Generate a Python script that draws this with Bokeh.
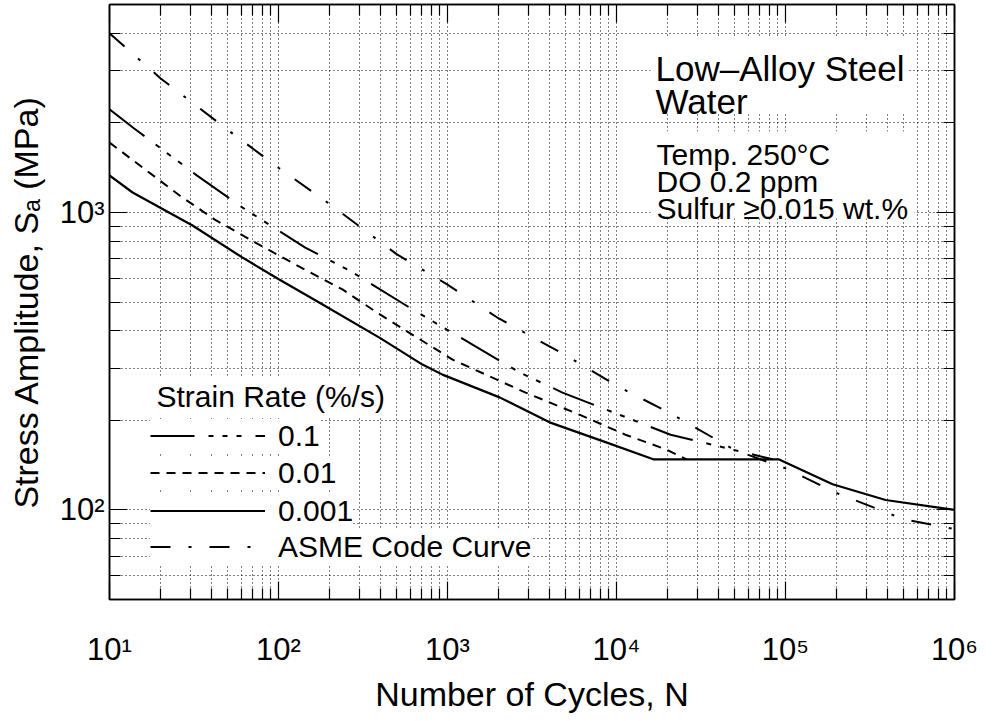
import math
from bokeh.plotting import figure
from bokeh.models import (LogAxis, FixedTicker, Legend, LegendItem, Label,
                          BoxAnnotation)
from bokeh.embed import file_html
from bokeh.resources import INLINE

# ---------------- data ----------------
asme_n = [10, 20, 50, 100, 200, 500, 1000, 2000, 5000, 10000, 12000, 20000,
          50000, 100000, 200000, 500000, 1000000]
asme_s = [3999, 2827, 1896, 1413, 1069, 724, 572, 441, 331, 262, 248, 214,
          159, 138, 114, 93.1, 86.2]

rate01_n = [10, 14, 33, 61, 144, 263, 621, 1110, 2670, 4790, 12400, 20900, 84000]
rate01_s = [2220, 1915, 1330, 1040, 762, 638, 472, 389, 290, 248, 201, 179, 148]

rate001_n = [10, 26, 42, 73, 126, 239, 396, 1071, 2898, 6040, 11300, 19500, 26000]
rate001_s = [1718, 1140, 946, 792, 668, 551, 455, 320, 248, 209, 179, 160, 148]

rate0001_n = [10, 13.7, 31, 61, 101, 166, 400, 711, 934, 2033, 4018, 8610,
              16500, 91000, 190000, 391000, 1000000]
rate0001_s = [1331, 1167, 904, 706, 595, 506, 378, 308, 285, 239, 197, 169,
              148, 148, 122, 108, 100]

legend_labels = ["0.1", "0.01", "0.001", "ASME Code Curve"]
legend_title = "Strain Rate (%/s)"

x_major = [10, 100, 1000, 10000, 100000, 1000000]
x_labels = ["10¹", "10²", "10³", "10⁴", "10⁵", "10⁶"]
y_major = [100, 1000]
y_labels = ["10²", "10³"]
x_minor = [m * 10 ** k for k in range(1, 6) for m in range(2, 10)]
y_minor = [m * 10 ** k for k in range(1, 4) for m in range(2, 10)
           if 50 <= m * 10 ** k <= 5000]

X_LO, X_HI = 10, 1e6
Y_LO, Y_HI = 50, 5000

FONT = "Liberation Sans"
FRAME_W, FRAME_H = 845, 595


# frame-pixel -> data helpers for annotation placement
def nx(px):
    return 10 ** (math.log10(X_LO) + (math.log10(X_HI) - math.log10(X_LO)) * px / FRAME_W)


def sy(py):
    return 10 ** (math.log10(Y_HI) - (math.log10(Y_HI) - math.log10(Y_LO)) * py / FRAME_H)


p = figure(frame_width=FRAME_W, frame_height=FRAME_H,
           x_axis_type="log", y_axis_type="log",
           x_range=(X_LO, X_HI), y_range=(Y_LO, Y_HI),
           output_backend="svg", toolbar_location=None,
           min_border_left=109, min_border_right=36,
           min_border_top=4, min_border_bottom=104)
p.background_fill_color = "white"
p.border_fill_color = "white"
p.outline_line_color = "black"
p.outline_line_width = 1.5

bottom = p.below[0]
left = p.left[0]

xt = FixedTicker(ticks=x_major, minor_ticks=x_minor)
yt = FixedTicker(ticks=y_major, minor_ticks=y_minor)

top = LogAxis()
right = LogAxis()
p.add_layout(top, "above")
p.add_layout(right, "right")

for ax, tk in [(bottom, xt), (top, xt), (left, yt), (right, yt)]:
    ax.ticker = tk
    ax.major_tick_in = 18
    ax.major_tick_out = 0
    ax.minor_tick_in = 11
    ax.minor_tick_out = 0
    ax.major_tick_line_color = "black"
    ax.minor_tick_line_color = "black"
    ax.major_tick_line_width = 1.2
    ax.minor_tick_line_width = 1.2
    ax.axis_line_color = "black"
    ax.axis_line_width = 1.5
    ax.major_label_text_font = FONT
    ax.major_label_text_color = "black"

for ax in (top, right):
    ax.major_label_text_font_size = "1px"
    ax.major_label_text_alpha = 0
    ax.major_label_standoff = 0

bottom.major_label_overrides = dict(zip(x_major, x_labels))
left.major_label_overrides = dict(zip(y_major, y_labels))
bottom.major_label_text_font_size = "31px"
left.major_label_text_font_size = "31px"
bottom.major_label_standoff = 32
left.major_label_standoff = 5

bottom.axis_label = "Number of Cycles, N"
left.axis_label = "Stress Amplitude, Sₐ (MPa)"
for ax in (bottom, left):
    ax.axis_label_text_font = FONT
    ax.axis_label_text_font_size = "34px"
    ax.axis_label_text_font_style = "normal"
    ax.axis_label_text_color = "black"
bottom.axis_label_standoff = 5
left.axis_label_standoff = 12

for g, tk in ((p.xgrid[0], xt), (p.ygrid[0], yt)):
    g.ticker = tk
    g.grid_line_color = "black"
    g.grid_line_dash = "1 3"
    g.grid_line_width = 1
    g.minor_grid_line_color = "black"
    g.minor_grid_line_dash = "1 3"
    g.minor_grid_line_width = 1

r_asme = p.line(asme_n, asme_s, line_color="black", line_width=2,
                line_dash="20 18 3 18")
r_01 = p.line(rate01_n, rate01_s, line_color="black", line_width=2,
              line_dash="44 14 5 9 5 9 5 14")
r_001 = p.line(rate001_n, rate001_s, line_color="black", line_width=2,
               line_dash="9 7")
r_0001 = p.line(rate0001_n, rate0001_s, line_color="black", line_width=2.2)

# ---- white masks + annotation text (upper right) ----
OX, OY = 117, 12  # reference frame origin on the page
p.add_layout(BoxAnnotation(left=nx(658 - OX), right=nx(916 - OX),
                           top=sy(45 - OY), bottom=sy(120 - OY),
                           fill_color="white", fill_alpha=1, line_color=None))
p.add_layout(BoxAnnotation(left=nx(658 - OX), right=nx(922 - OX),
                           top=sy(139 - OY), bottom=sy(226 - OY),
                           fill_color="white", fill_alpha=1, line_color=None))

big_lines = [("Low–Alloy Steel", 76), ("Water", 109)]
small_lines = [("Temp. 250°C", 162), ("DO 0.2 ppm", 189),
               ("Sulfur ≥0.015 wt.%", 216)]
for txt, base in big_lines:
    p.add_layout(Label(x=nx(663 - OX), y=sy(base - OY), text=txt,
                       text_font=FONT, text_font_size="35px",
                       text_align="left", text_baseline="alphabetic",
                       text_color="black"))
for txt, base in small_lines:
    p.add_layout(Label(x=nx(664 - OX), y=sy(base - OY), text=txt,
                       text_font=FONT, text_font_size="30px",
                       text_align="left", text_baseline="alphabetic",
                       text_color="black"))

# ---- legend ----
p.add_layout(Label(x=nx(161 - OX), y=sy(404 - OY), text=legend_title,
                   text_font=FONT, text_font_size="30px",
                   text_align="left", text_baseline="alphabetic",
                   text_color="black", background_fill_color="white",
                   background_fill_alpha=1, padding=3))

row_centers = [442, 479, 517, 553]
for lab, r, c in zip(legend_labels, [r_01, r_001, r_0001, r_asme], row_centers):
    leg = Legend(items=[LegendItem(label=lab, renderers=[r])],
                 location=(160 - 2 - OX, 607 - (c + 16.5 + 2)),
                 padding=2, margin=0, spacing=0,
                 glyph_width=115, glyph_height=33, label_height=33,
                 label_standoff=13, label_text_font=FONT,
                 label_text_font_size="30px", label_text_color="black",
                 background_fill_color="white", background_fill_alpha=1,
                 border_line_color=None)
    p.add_layout(leg)

open("out.html", "w").write(file_html(p, INLINE))
